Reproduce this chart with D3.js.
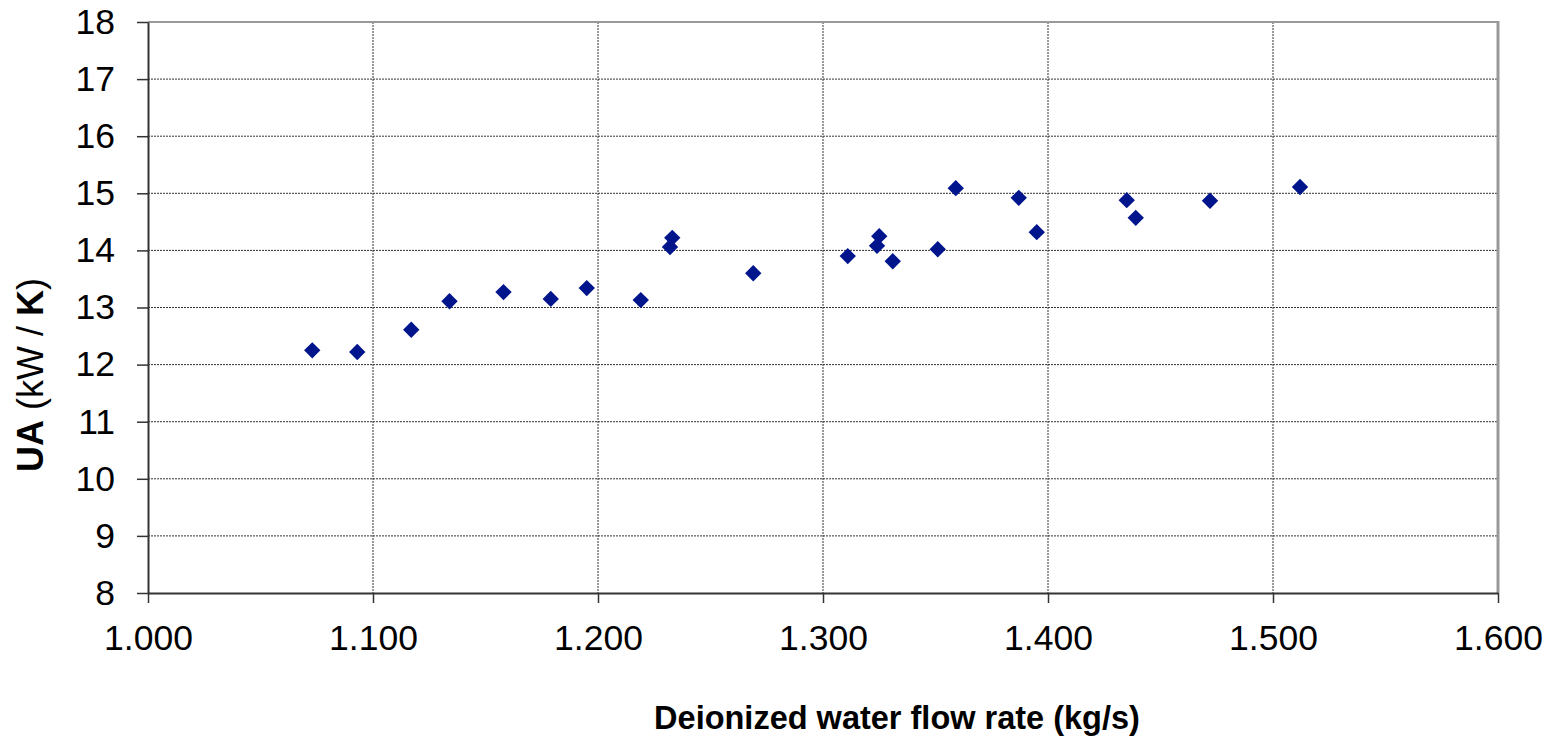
<!DOCTYPE html>
<html>
<head>
<meta charset="utf-8">
<script src="https://cdn.jsdelivr.net/npm/d3@7"></script>
<style>
  body { margin: 0; background: #fff; }
  text { font-family: "Liberation Sans", Arial, sans-serif; fill: #000; }
</style>
</head>
<body>
<div id="chart"></div>
<script>
// data
var flowRate = [1.073, 1.093, 1.117, 1.134, 1.158, 1.179, 1.195, 1.219, 1.232, 1.233,
                1.269, 1.311, 1.324, 1.325, 1.331, 1.351, 1.359, 1.387, 1.395, 1.435,
                1.439, 1.472, 1.512];
var uaValue  = [12.25, 12.22, 12.61, 13.11, 13.27, 13.15, 13.34, 13.13, 14.06, 14.22,
                13.60, 13.90, 14.08, 14.25, 13.81, 14.02, 15.09, 14.92, 14.32, 14.88,
                14.57, 14.87, 15.11];
var xTicks = [1.0, 1.1, 1.2, 1.3, 1.4, 1.5, 1.6];
var yTicks = [8, 9, 10, 11, 12, 13, 14, 15, 16, 17, 18];

var points = flowRate.map(function(d, i) { return {x: d, y: uaValue[i]}; });

// set the dimensions and margins of the graph
var margin = {top: 22, right: 59, bottom: 147, left: 148},
width = 1557 - margin.left - margin.right,
height = 740 - margin.top - margin.bottom;

var svg = d3.select("#chart")
.append("svg")
.attr("width", 1557)
.attr("height", 740)
.append("g")
.attr("transform", "translate(" + margin.left + "," + margin.top + ")");

var x = d3.scaleLinear().domain([1.0, 1.6]).range([0, width]);
var y = d3.scaleLinear().domain([8, 18]).range([height, 0]);

// gridlines
svg.append("g")
.selectAll("line")
.data(yTicks.slice(1, -1))
.enter()
.append("line")
  .attr("x1", 0).attr("x2", width)
  .attr("y1", function(d) { return y(d); })
  .attr("y2", function(d) { return y(d); })
  .attr("stroke", "#333")
  .attr("stroke-width", 1)
  .attr("stroke-dasharray", "2,1");

svg.append("g")
.selectAll("line")
.data(xTicks.slice(1, -1))
.enter()
.append("line")
  .attr("y1", 0).attr("y2", height)
  .attr("x1", function(d) { return x(d); })
  .attr("x2", function(d) { return x(d); })
  .attr("stroke", "#333")
  .attr("stroke-width", 1)
  .attr("stroke-dasharray", "2,1");

// frame top and right
svg.append("line")
  .attr("x1", 0).attr("x2", width).attr("y1", 0).attr("y2", 0)
  .attr("stroke", "#999").attr("stroke-width", 2);
svg.append("line")
  .attr("x1", width).attr("x2", width).attr("y1", -1).attr("y2", height)
  .attr("stroke", "#999").attr("stroke-width", 3);

// axes
var xAxis = svg.append("g")
.attr("transform", "translate(0," + height + ")")
.call(d3.axisBottom(x).tickValues(xTicks).tickFormat(d3.format(".3f")).tickSize(10).tickSizeOuter(0).tickPadding(22));
xAxis.select(".domain").attr("stroke", "#333").attr("stroke-width", 2);
xAxis.selectAll(".tick line").attr("stroke", "#333").attr("stroke-width", 1.5);
xAxis.selectAll("text").style("font-size", "35.5px").attr("font-family", null);

var yAxis = svg.append("g")
.call(d3.axisLeft(y).tickValues(yTicks).tickSize(11).tickSizeOuter(0).tickPadding(22));
yAxis.select(".domain").attr("stroke", "#333").attr("stroke-width", 2);
yAxis.selectAll(".tick line").attr("stroke", "#333").attr("stroke-width", 1.5);
yAxis.selectAll("text").style("font-size", "35.5px").attr("font-family", null);

// markers
svg.append("g")
.selectAll("path")
.data(points)
.enter()
.append("path")
  .attr("d", d3.symbol().type(d3.symbolDiamond2).size(170))
  .attr("transform", function(d) { return "translate(" + x(d.x) + "," + y(d.y) + ")"; })
  .attr("fill", "#00148c");

// axis titles
svg.append("text")
  .attr("text-anchor", "middle")
  .attr("x", 897 - margin.left)
  .attr("y", 729 - margin.top)
  .style("font-size", "32.5px")
  .style("font-weight", "bold")
  .text("Deionized water flow rate (kg/s)");

var yl = svg.append("text")
  .attr("text-anchor", "middle")
  .attr("transform", "translate(" + (43 - margin.left) + "," + (375 - margin.top) + ") rotate(-90)")
  .style("font-size", "36px");
yl.append("tspan").style("font-weight", "bold").text("UA");
yl.append("tspan").text(" (kW / ");
yl.append("tspan").style("font-weight", "bold").text("K");
yl.append("tspan").text(")");
</script>
</body>
</html>
